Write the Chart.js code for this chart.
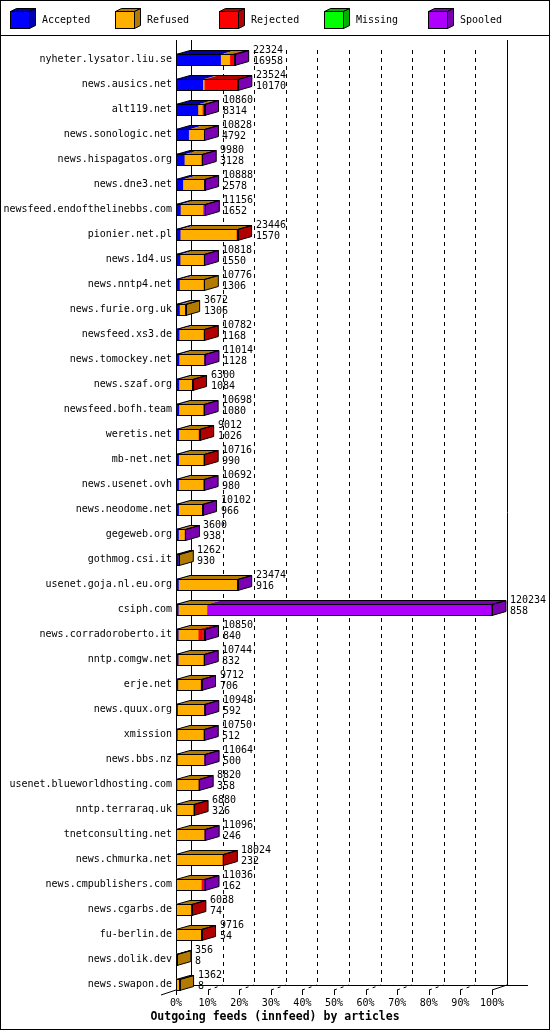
<!DOCTYPE html>
<html>
<head>
<meta charset="utf-8">
<script src="https://cdn.jsdelivr.net/npm/chart.js@4.4.1/dist/chart.umd.min.js"></script>
<style>
  html, body { margin: 0; padding: 0; background: #fff; }
  canvas { display: block; }
</style>
</head>
<body>
<canvas id="feeds" width="550" height="1030"></canvas>
<script>
// hosts, sorted by accepted articles
const hosts = [
  "nyheter.lysator.liu.se", "news.ausics.net", "alt119.net", "news.sonologic.net",
  "news.hispagatos.org", "news.dne3.net", "newsfeed.endofthelinebbs.com", "pionier.net.pl",
  "news.1d4.us", "news.nntp4.net", "news.furie.org.uk", "newsfeed.xs3.de",
  "news.tomockey.net", "news.szaf.org", "newsfeed.bofh.team", "weretis.net",
  "mb-net.net", "news.usenet.ovh", "news.neodome.net", "gegeweb.org",
  "gothmog.csi.it", "usenet.goja.nl.eu.org", "csiph.com", "news.corradoroberto.it",
  "nntp.comgw.net", "erje.net", "news.quux.org", "xmission",
  "news.bbs.nz", "usenet.blueworldhosting.com", "nntp.terraraq.uk", "tnetconsulting.net",
  "news.chmurka.net", "news.cmpublishers.com", "news.cgarbs.de", "fu-berlin.de",
  "news.dolik.dev", "news.swapon.de"
];
const offered = [
  22324, 23524, 10860, 10828, 9980, 10888, 11156, 23446,
  10818, 10776, 3672, 10782, 11014, 6300, 10698, 9012,
  10716, 10692, 10102, 3600, 1262, 23474, 120234, 10850,
  10744, 9712, 10948, 10750, 11064, 8820, 6880, 11096,
  18024, 11036, 6038, 9716, 356, 1362
];
const accepted = [
  16958, 10170, 8314, 4792, 3128, 2578, 1652, 1570,
  1550, 1306, 1306, 1168, 1128, 1084, 1080, 1026,
  990, 980, 966, 938, 930, 916, 858, 840,
  832, 706, 592, 512, 500, 358, 326, 246,
  232, 162, 74, 54, 8, 8
];
const refused = [
  3500, 600, 1700, 5950, 6800, 8200, 8604, 21376,
  8998, 9470, 2366, 9314, 9436, 4866, 9368, 7486,
  9476, 9462, 8936, 2262, 332, 22158, 10900, 7600,
  9662, 8606, 10006, 9938, 10064, 8162, 6354, 10400,
  17392, 9474, 5564, 9362, 348, 1354
];
const rejected = [
  1600, 12300, 600, 0, 0, 0, 0, 500,
  0, 0, 0, 300, 0, 350, 0, 500,
  250, 0, 0, 0, 0, 0, 0, 1650,
  0, 0, 0, 0, 0, 0, 200, 0,
  400, 900, 400, 300, 0, 0
];
const missing = [
  0, 0, 0, 0, 0, 0, 0, 0,
  0, 0, 0, 0, 0, 0, 0, 0,
  0, 0, 0, 0, 0, 0, 0, 0,
  0, 0, 0, 0, 0, 0, 0, 0,
  0, 0, 0, 0, 0, 0
];
const spooled = [
  266, 454, 246, 86, 52, 110, 900, 0,
  270, 0, 0, 0, 450, 0, 250, 0,
  0, 250, 200, 400, 0, 400, 108476, 760,
  250, 400, 350, 300, 500, 300, 0, 450,
  0, 500, 0, 0, 0, 0
];
const tickPercents = [0, 10, 20, 30, 40, 50, 60, 70, 80, 90, 100];
const tickLabels = ["0%", "10%", "20%", "30%", "40%", "50%", "60%", "70%", "80%", "90%", "100%"];
const seriesNames = ["Accepted", "Refused", "Rejected", "Missing", "Spooled"];
const faceColors = ["#0000ff", "#ffaf00", "#ff0000", "#00ff00", "#af00ff"];
const sideColors = ["#0000b2", "#b27a00", "#b20000", "#00b200", "#7a00b2"];

const xMax = Math.max(...offered);
const FONT = "'DejaVu Sans Mono', monospace";
const bar3d = { dx: 14, dy: -4 };
const wall3d = { dx: 15, dy: -5 };

const px = v => Math.round(v) + 0.5;

function poly(ctx, pts, fill) {
  ctx.beginPath();
  ctx.moveTo(pts[0][0], pts[0][1]);
  for (let i = 1; i < pts.length; i++) ctx.lineTo(pts[i][0], pts[i][1]);
  ctx.closePath();
  if (fill) { ctx.fillStyle = fill; ctx.fill(); }
  ctx.stroke();
}

// walls, floor and grid behind the bars, then the 3d faces on top
const box3d = {
  id: "box3d",
  beforeDatasetsDraw(chart) {
    const { ctx, chartArea: a, scales: { x } } = chart;
    const meta = chart.getDatasetMeta(0);
    const last = meta.data[meta.data.length - 1];
    const floorY = Math.round(last.y + last.height / 2);
    const top = a.top - 7;
    const x0 = Math.round(x.getPixelForValue(0));
    const x100 = Math.round(x.getPixelForValue(xMax));
    const b0 = x0 + wall3d.dx, b100 = x100 + wall3d.dx, bY = floorY + wall3d.dy;
    ctx.save();
    ctx.strokeStyle = "#000";
    ctx.lineWidth = 1;
    ctx.beginPath();
    ctx.moveTo(x0 + 0.5, top); ctx.lineTo(x0 + 0.5, floorY);
    ctx.moveTo(b0 + 0.5, top); ctx.lineTo(b0 + 0.5, bY);
    ctx.moveTo(b100 + 0.5, top); ctx.lineTo(b100 + 0.5, bY);
    ctx.moveTo(b0, bY + 0.5); ctx.lineTo(b100 + 21, bY + 0.5);
    ctx.moveTo(x0 - 15, floorY + 5); ctx.lineTo(b0, bY);
    ctx.moveTo(x100, floorY); ctx.lineTo(b100, bY);
    ctx.stroke();
    x.ticks.forEach((t, i) => {
      const xf = Math.round(x.getPixelForValue(t.value));
      ctx.setLineDash([]);
      ctx.beginPath();
      ctx.moveTo(xf + 0.5, floorY); ctx.lineTo(xf + 0.5, floorY + 5);
      ctx.stroke();
      if (i === 0 || i === x.ticks.length - 1) return;
      ctx.setLineDash([3, 4]);
      ctx.beginPath();
      ctx.moveTo(xf, floorY); ctx.lineTo(xf + wall3d.dx, bY);
      ctx.stroke();
      ctx.setLineDash([4, 4]);
      ctx.beginPath();
      ctx.moveTo(xf + wall3d.dx + 0.5, top + 10); ctx.lineTo(xf + wall3d.dx + 0.5, bY);
      ctx.stroke();
    });
    ctx.restore();
  },
  afterDatasetsDraw(chart) {
    const { ctx } = chart;
    const metas = chart.data.datasets.map((d, k) => chart.getDatasetMeta(k));
    ctx.save();
    ctx.strokeStyle = "#000";
    ctx.lineWidth = 1;
    ctx.font = "10px " + FONT;
    ctx.textBaseline = "middle";
    ctx.textAlign = "left";
    hosts.forEach((h, i) => {
      const segs = [];
      metas.forEach((m, k) => {
        if (!chart.data.datasets[k].data[i]) return;
        const el = m.data[i];
        segs.push({ k, l: Math.min(el.base, el.x), r: Math.max(el.base, el.x), y: el.y, h: el.height });
      });
      if (!segs.length) return;
      const t = Math.round(segs[0].y - segs[0].h / 2) + 0.5;
      const b = Math.round(segs[0].y + segs[0].h / 2) + 0.5;
      const { dx, dy } = bar3d;
      segs.forEach(s => {
        ctx.beginPath();
        ctx.moveTo(s.l, t); ctx.lineTo(s.r, t); ctx.lineTo(s.r + dx, t + dy); ctx.lineTo(s.l + dx, t + dy);
        ctx.closePath();
        ctx.fillStyle = sideColors[s.k];
        ctx.fill();
      });
      const xs = segs[0].l, xe = segs[segs.length - 1].r;
      poly(ctx, [[xe, t], [xe + dx, t + dy], [xe + dx, b + dy], [xe, b]], sideColors[segs[segs.length - 1].k]);
      poly(ctx, [[xs, t], [xs + dx, t + dy], [xe + dx, t + dy], [xe, t]]);
      ctx.strokeRect(px(xs), t, Math.round(xe - xs), b - t);
      ctx.fillStyle = "#000";
      const lx = Math.round(xe + dx + 4);
      ctx.fillText(String(offered[i]), lx, segs[0].y - 9.5);
      ctx.fillText(String(accepted[i]), lx, segs[0].y + 1.5);
    });
    ctx.restore();
  },
  afterDraw(chart) {
    const { ctx, width, height } = chart;
    ctx.save();
    ctx.strokeStyle = "#000";
    ctx.lineWidth = 1;
    // legend
    ctx.font = "10px " + FONT;
    ctx.textBaseline = "middle";
    chart.data.datasets.forEach((d, k) => {
      const bx = Math.round(10 + k * 104.5);
      poly(ctx, [[bx + 0.5, 11.5], [bx + 6.5, 8.5], [bx + 25.5, 8.5], [bx + 19.5, 11.5]], sideColors[k]);
      poly(ctx, [[bx + 19.5, 11.5], [bx + 25.5, 8.5], [bx + 25.5, 25.5], [bx + 19.5, 28.5]], sideColors[k]);
      ctx.fillStyle = faceColors[k];
      ctx.fillRect(bx + 0.5, 11.5, 19, 17);
      ctx.strokeRect(bx + 0.5, 11.5, 19, 17);
      ctx.fillStyle = "#000";
      ctx.fillText(d.label, bx + 32, 20);
    });
    ctx.beginPath();
    ctx.moveTo(0, 35.5); ctx.lineTo(width, 35.5);
    ctx.stroke();
    // axis title
    ctx.font = "bold 11.5px " + FONT;
    ctx.textAlign = "center";
    ctx.fillText("Outgoing feeds (innfeed) by articles", 275, 1017);
    ctx.strokeRect(0.5, 0.5, width - 1, height - 1);
    ctx.restore();
  }
};

const series = [accepted, refused, rejected, missing, spooled];

new Chart(document.getElementById("feeds"), {
  type: "bar",
  plugins: [box3d],
  data: {
    labels: hosts,
    datasets: series.map((values, k) => ({
      label: seriesNames[k],
      data: values,
      backgroundColor: faceColors[k],
      borderWidth: 0,
      barThickness: 11
    }))
  },
  options: {
    indexAxis: "y",
    responsive: false,
    animation: false,
    events: [],
    layout: { padding: { top: 47, right: 58, bottom: 0, left: 0 } },
    plugins: { legend: { display: false }, tooltip: { enabled: false }, title: { display: false } },
    scales: {
      x: {
        stacked: true,
        min: 0,
        max: xMax,
        grid: { display: false, drawTicks: false },
        border: { display: false },
        afterBuildTicks: scale => {
          scale.ticks = tickPercents.map(p => ({ value: xMax * p / 100 }));
        },
        afterFit: scale => { scale.height = 33; },
        ticks: {
          autoSkip: false,
          maxRotation: 0,
          padding: 0,
          color: "#000",
          font: { family: FONT, size: 10 },
          callback: (v, i) => tickLabels[i]
        }
      },
      y: {
        stacked: true,
        grid: { display: false, drawTicks: false },
        border: { display: false },
        afterFit: scale => { scale.width = 176; },
        ticks: {
          autoSkip: false,
          padding: 4,
          color: "#000",
          font: { family: FONT, size: 10 }
        }
      }
    }
  }
});
</script>
</body>
</html>
